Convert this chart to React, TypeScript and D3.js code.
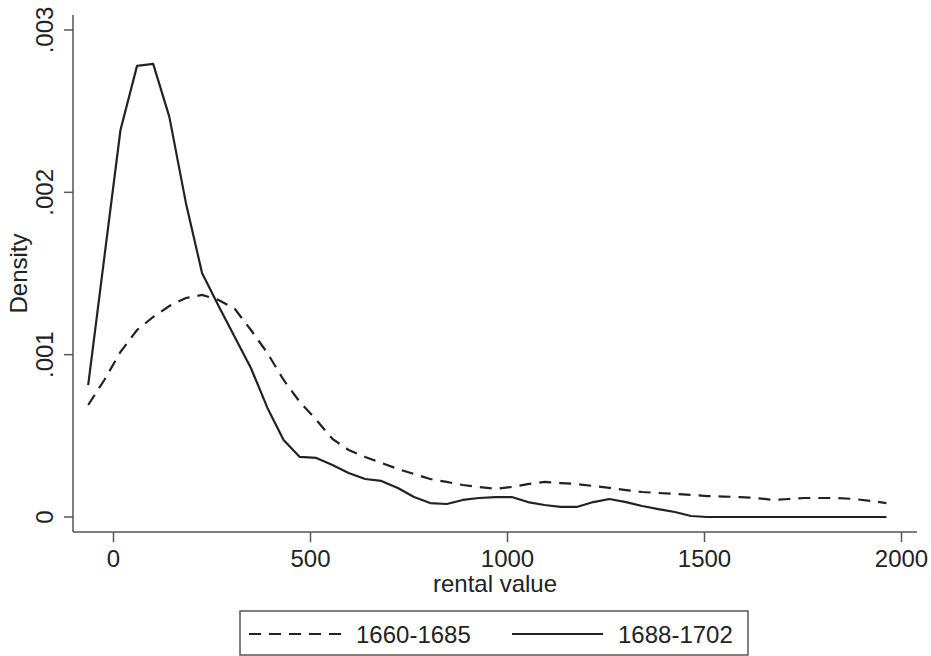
import { useEffect, useRef } from "react";
import * as d3 from "d3";

// evaluation grid of the kernel density (rental value)
const gridX = [-63, -22, 19, 61, 102, 143, 185, 226, 268, 309, 350, 392, 433, 474, 516, 557, 598, 640, 681, 723, 764, 805, 847, 888, 929, 971, 1012, 1053, 1095, 1136, 1177, 1219, 1260, 1302, 1343, 1384, 1426, 1467, 1508, 1550, 1591, 1632, 1674, 1715, 1756, 1798, 1839, 1881, 1922, 1963];

// 1660-1685 (dashed)
const densEarly = [0.00069, 0.000844, 0.001017, 0.001152, 0.001232, 0.0013, 0.001349, 0.001368, 0.001337, 0.001282, 0.001152, 0.00101, 0.000844, 0.000709, 0.000598, 0.000481, 0.000413, 0.00037, 0.000333, 0.000296, 0.000265, 0.000234, 0.000216, 0.000197, 0.000185, 0.000173, 0.000185, 0.000203, 0.000216, 0.000209, 0.000203, 0.000191, 0.000179, 0.000166, 0.000154, 0.000148, 0.000142, 0.000136, 0.000129, 0.000126, 0.000123, 0.000117, 0.000105, 0.000111, 0.000117, 0.000117, 0.000117, 0.000111, 0.000099, 0.000086];

// 1688-1702 (solid)
const densLate = [0.000813, 0.0016, 0.002384, 0.002779, 0.002791, 0.002465, 0.001935, 0.001503, 0.0013, 0.001109, 0.000918, 0.000672, 0.000474, 0.00037, 0.000364, 0.00032, 0.000271, 0.000234, 0.000222, 0.000179, 0.000123, 0.000086, 0.00008, 0.000105, 0.000117, 0.000123, 0.000123, 0.000092, 0.000074, 0.000062, 0.000062, 0.000092, 0.000111, 0.000092, 0.000068, 0.000049, 0.000031, 0.000006, 0, 0, 0, 0, 0, 0, 0, 0, 0, 0, 0, 0];

const xTicks = [0, 500, 1000, 1500, 2000];
const yTicks = [0, 0.001, 0.002, 0.003];
const seriesNames = ["1660-1685", "1688-1702"];

const FONT = "'Liberation Sans', Arial, Helvetica, sans-serif";
const INK = "#222";
const AXIS = "#555";
const DASH = "12,8";

const App = () => {
  const svgRef = useRef<SVGSVGElement>(null);

  useEffect(() => {
    document.body.style.margin = "0";
    const svg = d3.select(svgRef.current);
    svg.selectAll("*").remove();

    const x = d3.scaleLinear().domain([0, 2000]).range([113, 901]);
    const y = d3.scaleLinear().domain([0, 0.003]).range([517, 30]);

    const axisLeftX = 73;
    const axisBottomY = 532;

    // axis lines
    svg.append("line")
      .attr("x1", axisLeftX).attr("x2", axisLeftX)
      .attr("y1", 15).attr("y2", axisBottomY)
      .attr("stroke", AXIS).attr("stroke-width", 1.5);
    svg.append("line")
      .attr("x1", axisLeftX).attr("x2", 917)
      .attr("y1", axisBottomY).attr("y2", axisBottomY)
      .attr("stroke", AXIS).attr("stroke-width", 1.5);

    // x axis
    const xAxis = d3.axisBottom(x).tickValues(xTicks).tickSize(10).tickPadding(6).tickFormat(d3.format("d"));
    const gx = svg.append("g").attr("transform", `translate(0,${axisBottomY})`).call(xAxis);
    gx.select(".domain").remove();
    gx.selectAll(".tick line").attr("stroke", AXIS).attr("stroke-width", 1.5);
    gx.selectAll(".tick text")
      .attr("font-family", FONT).attr("font-size", 24).attr("fill", INK)
      .attr("dy", null).attr("y", 35);

    // y axis (rotated labels, Stata style)
    const fmtY = (d: number) => (d === 0 ? "0" : d3.format(".3f")(d).replace(/^0/, ""));
    const gy = svg.append("g");
    gy.selectAll("line")
      .data(yTicks)
      .join("line")
      .attr("x1", axisLeftX - 9).attr("x2", axisLeftX)
      .attr("y1", (d) => y(d)).attr("y2", (d) => y(d))
      .attr("stroke", AXIS).attr("stroke-width", 1.5);
    gy.selectAll("text")
      .data(yTicks)
      .join("text")
      .attr("transform", (d) => `translate(53,${y(d)}) rotate(-90)`)
      .attr("text-anchor", "middle")
      .attr("font-family", FONT).attr("font-size", 24).attr("fill", INK)
      .text(fmtY);

    // axis titles
    svg.append("text")
      .attr("transform", `translate(27,${(15 + axisBottomY) / 2}) rotate(-90)`)
      .attr("text-anchor", "middle")
      .attr("font-family", FONT).attr("font-size", 24).attr("fill", INK)
      .text("Density");
    svg.append("text")
      .attr("x", (axisLeftX + 917) / 2).attr("y", 592)
      .attr("text-anchor", "middle")
      .attr("font-family", FONT).attr("font-size", 24).attr("fill", INK)
      .text("rental value");

    // density curves
    const line = d3.line<number>()
      .x((d, i) => x(gridX[i]))
      .y((d) => y(d));

    svg.append("path")
      .datum(densEarly)
      .attr("d", line)
      .attr("fill", "none").attr("stroke", INK).attr("stroke-width", 2.2)
      .attr("stroke-dasharray", DASH);
    svg.append("path")
      .datum(densLate)
      .attr("d", line)
      .attr("fill", "none").attr("stroke", INK).attr("stroke-width", 2.2)
      .attr("stroke-linejoin", "round");

    // legend
    const legend = svg.append("g");
    legend.append("rect")
      .attr("x", 240).attr("y", 611).attr("width", 508).attr("height", 44)
      .attr("fill", "white").attr("stroke", AXIS).attr("stroke-width", 1.5);
    const items = [
      { name: seriesNames[0], x0: 249, x1: 341, tx: 356, dash: DASH },
      { name: seriesNames[1], x0: 512, x1: 603, tx: 618, dash: null },
    ];
    items.forEach((it) => {
      legend.append("line")
        .attr("x1", it.x0).attr("x2", it.x1).attr("y1", 634).attr("y2", 634)
        .attr("stroke", INK).attr("stroke-width", 2.2)
        .attr("stroke-dasharray", it.dash);
      legend.append("text")
        .attr("x", it.tx).attr("y", 643)
        .attr("font-family", FONT).attr("font-size", 24).attr("fill", INK)
        .text(it.name);
    });

    return () => {
      svg.selectAll("*").remove();
    };
  }, []);

  return (
    <div>
      <svg ref={svgRef} width={931} height={656} style={{ display: "block", background: "white" }}></svg>
    </div>
  );
};

export default App;
